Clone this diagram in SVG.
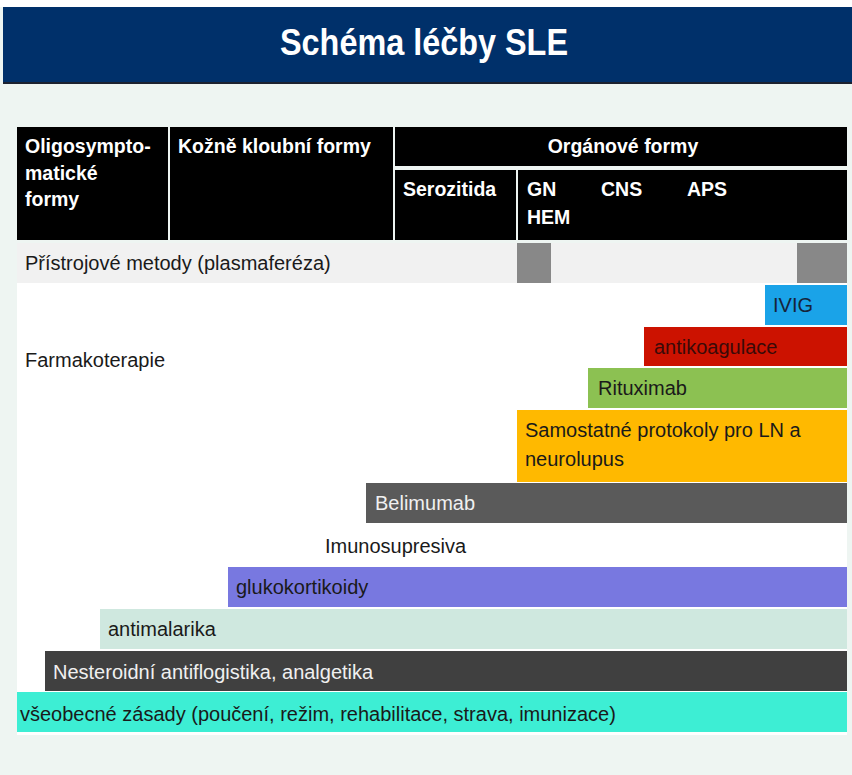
<svg xmlns="http://www.w3.org/2000/svg" width="852" height="775" viewBox="0 0 852 775">
<style>
.h{font-family:"Liberation Sans",Arial,sans-serif;font-weight:bold;font-size:19.5px;fill:#ffffff}
.t{font-family:"Liberation Sans",Arial,sans-serif;font-size:20px;fill:#1a1a1a}
.cell{fill:#000000}
</style>
<rect x="0" y="0" width="852" height="775" fill="#eef5f2"/>
<rect x="0" y="0" width="852" height="7" fill="#ffffff"/>
<g id="title">
<rect x="3" y="7" width="849" height="75" fill="#00306a"/>
<rect x="3" y="82" width="849" height="2" fill="#1c2230"/>
<text x="424" y="55" text-anchor="middle" font-family="'Liberation Sans',Arial,sans-serif" font-weight="bold" font-size="36" fill="#ffffff" textLength="288" lengthAdjust="spacingAndGlyphs">Schéma léčby SLE</text>
</g>
<rect x="17" y="283" width="830" height="452" fill="#ffffff"/>
<g id="header">
<g id="h-oligo"><rect class="cell" x="17" y="127" width="151" height="113"/>
<text class="h" x="25" y="153">Oligosympto-</text><text class="h" x="25" y="180">matické</text><text class="h" x="25" y="206">formy</text></g>
<g id="h-kozne"><rect class="cell" x="170" y="127" width="223" height="113"/>
<text class="h" x="178" y="153">Kožně kloubní formy</text></g>
<g id="h-organ"><rect class="cell" x="395" y="127" width="452" height="39"/>
<text class="h" x="623" y="153" text-anchor="middle">Orgánové formy</text></g>
<g id="h-seroz"><rect class="cell" x="395" y="170" width="121" height="70"/>
<text class="h" x="403" y="196">Serozitida</text></g>
<g id="h-gn"><rect class="cell" x="518" y="170" width="329" height="70"/>
<text class="h" x="527" y="196">GN</text><text class="h" x="527" y="224">HEM</text>
<text class="h" x="601" y="196">CNS</text><text class="h" x="687" y="196">APS</text></g>
</g>
<g id="plasma">
<rect x="17" y="243" width="830" height="40" fill="#f1f1f1"/>
<rect x="517" y="243" width="34" height="40" fill="#888888"/>
<rect x="797" y="243" width="50" height="40" fill="#888888"/>
<text class="t" x="25" y="270">Přístrojové metody (plasmaferéza)</text>
</g>
<g id="farmako"><text class="t" x="25" y="367">Farmakoterapie</text></g>
<g id="ivig"><rect x="765" y="285" width="82" height="40" fill="#1aa3e8"/><text class="t" x="773" y="312" style="fill:#16243a">IVIG</text></g>
<g id="antikoag"><rect x="644" y="327" width="203" height="39" fill="#cc1200"/><text class="t" x="654" y="354" style="fill:#3a0a08">antikoagulace</text></g>
<g id="rituximab"><rect x="588" y="368" width="259" height="40" fill="#8cc152"/><text class="t" x="598" y="395">Rituximab</text></g>
<g id="protokoly"><rect x="517" y="410" width="330" height="72" fill="#ffb900"/><text class="t" x="525" y="437">Samostatné protokoly pro LN a</text><text class="t" x="525" y="466">neurolupus</text></g>
<g id="belimumab"><rect x="366" y="483" width="481" height="40" fill="#5a5a5a"/><text class="t" x="375" y="510" style="fill:#f0f0f0">Belimumab</text></g>
<g id="imuno"><text class="t" x="325" y="553">Imunosupresiva</text></g>
<g id="gluko"><rect x="228" y="567" width="619" height="40" fill="#7878e0"/><text class="t" x="236" y="594">glukokortikoidy</text></g>
<g id="antimal"><rect x="100" y="609" width="747" height="40" fill="#cfe8df"/><text class="t" x="108" y="636">antimalarika</text></g>
<g id="nsaid"><rect x="45" y="651" width="802" height="40" fill="#404040"/><text class="t" x="53" y="679" style="fill:#f0f0f0">Nesteroidní antiflogistika, analgetika</text></g>
<g id="zasady"><rect x="17" y="692" width="830" height="40" fill="#3deed4"/><text class="t" x="20" y="721">všeobecné zásady (poučení, režim, rehabilitace, strava, imunizace)</text></g>
<g id="connectors"></g>
</svg>
